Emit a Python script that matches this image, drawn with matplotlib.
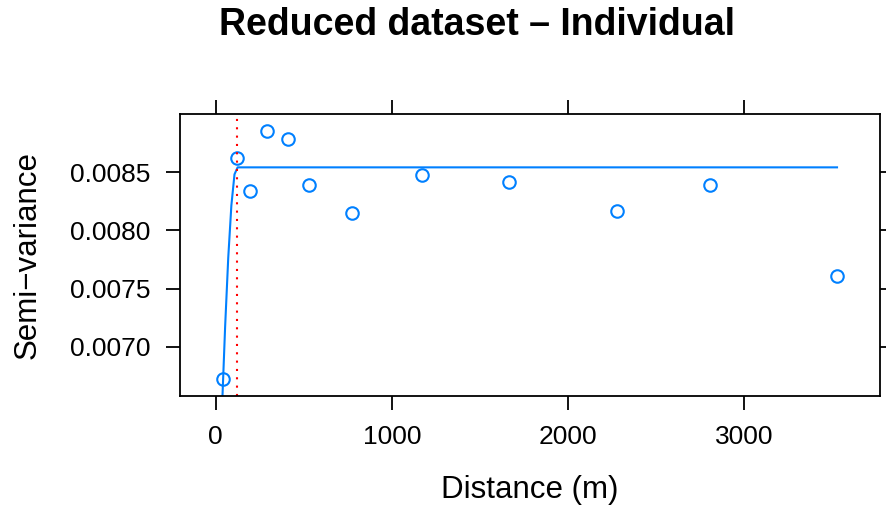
import numpy as np
import matplotlib
matplotlib.use("Agg")
import matplotlib.pyplot as plt

plt.rcParams['font.family'] = ['Liberation Sans', 'DejaVu Sans']

# empirical semivariogram
dist = [41, 123, 197, 293, 412, 531, 776, 1169, 1662, 2277, 2806, 3527]
gamma = [0.006728, 0.008620, 0.008333, 0.008849, 0.008786, 0.008385,
         0.008151, 0.008471, 0.008417, 0.008170, 0.008385, 0.007607]

# fitted spherical model
nugget = 0.00489
psill = 0.00365
vrange = 119

xticks = [0, 1000, 2000, 3000]
yticks = [0.0070, 0.0075, 0.0080, 0.0085]
blue = "#0080ff"


def spherical(h):
    r = np.minimum(h / vrange, 1.0)
    return nugget + psill * (1.5 * r - 0.5 * r ** 3)


h = np.linspace(1e-6 * max(dist), max(dist), 200)

fig = plt.figure(figsize=(8.87, 5.08), dpi=100)
ax = fig.add_axes([180 / 887, 1 - 396 / 508, 700 / 887, 282 / 508])

ax.plot(h, spherical(h), color=blue, lw=1.5)
ax.plot(dist, gamma, 'o', mfc='none', mec=blue, ms=9, mew=1.5)
ax.axvline(vrange, color='red', lw=1.5, ls=(0, (1, 3)))

xr = max(dist) - min(dist)
yr = max(gamma) - min(gamma)
ax.set_xlim(min(dist) - 0.07 * xr, max(dist) + 0.07 * xr)
ax.set_ylim(min(gamma) - 0.07 * yr, max(gamma) + 0.07 * yr)

ax.set_xticks(xticks)
ax.set_yticks(yticks)
ax.set_xticklabels([str(t) for t in xticks])
ax.set_yticklabels(["%.4f" % t for t in yticks])
ax.tick_params(direction='out', length=10, width=1.3, labelsize=19, pad=11,
               top=True, right=True, labeltop=False, labelright=False)
for s in ax.spines.values():
    s.set_linewidth(1.3)

fig.text(28 / 887, 1 - 255 / 508, "Semi\u2212variance", rotation=90,
         ha='center', va='center', fontsize=22.5)
fig.text(530 / 887, 1 - 490 / 508, "Distance (m)", ha='center', va='center',
         fontsize=22.5)
fig.text(477.5 / 887, 1 - 25 / 508, "Reduced dataset \u2013 Individual",
         ha='center', va='center', fontsize=27, fontweight='bold')

fig.savefig("out.png", dpi=100)
